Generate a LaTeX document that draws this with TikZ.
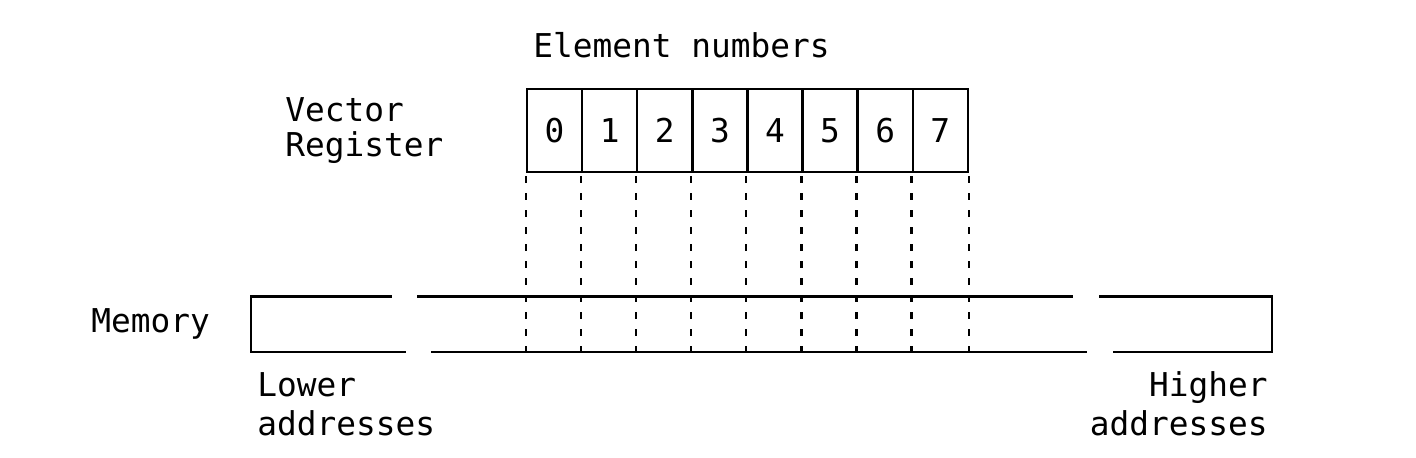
\documentclass[tikz,border=0pt]{standalone}
\usepackage{fontspec}
\setmonofont{DejaVu Sans Mono}
\begin{document}
\begin{tikzpicture}[x=0.5pt,y=-0.5pt,
  txt/.style={font=\ttfamily\fontsize{16.4}{19}\selectfont, inner sep=0pt, text=black},
  cell/.style={draw, line width=1.2pt, minimum width=27.55pt, minimum height=41.5pt, inner sep=0pt, font=\ttfamily\fontsize{16.4}{19}\selectfont},
  solidline/.style={line width=1.2pt},
  guide/.style={line width=1.2pt, dash pattern=on 3.5pt off 5pt, dash phase=-1.5pt}]
\useasboundingbox (0,0) rectangle (1416,458);
% labels
\node[txt, anchor=base west] (elem) at (533,58) {Element numbers};
\node[txt, anchor=base west] (vr1) at (285,121.5) {Vector};
\node[txt, anchor=base west] (vr2) at (285,156.5) {Register};
\node[txt, anchor=base west] (mem) at (91,333) {Memory};
\node[txt, anchor=base west] (lo1) at (257,396.5) {Lower};
\node[txt, anchor=base west] (lo2) at (257,435) {addresses};
\node[txt, anchor=base east] (hi1) at (1268,396.5) {Higher};
\node[txt, anchor=base east] (hi2) at (1268,435) {addresses};
% register cells
\foreach \i in {0,...,7}{
  \node[cell] (c\i) at ({554.6+55.1*\i},130.5) {\i};
}
% memory coordinates
\coordinate (mtl) at (251,296.5);
\coordinate (mbl) at (251,352);
\coordinate (mtr) at (1272,296.5);
\coordinate (mbr) at (1272,352);
\coordinate (t1) at (391.5,296.5);
\coordinate (t2) at (417,296.5);
\coordinate (t3) at (1073,296.5);
\coordinate (t4) at (1099,296.5);
\coordinate (b1) at (405.5,352);
\coordinate (b2) at (431,352);
\coordinate (b3) at (1087,352);
\coordinate (b4) at (1113,352);
% memory outline
\draw[solidline] (t1) -- (mtl) -- (mbl) -- (b1);
\draw[solidline] (t2) -- (t3);
\draw[solidline] (b2) -- (b3);
\draw[solidline] (t4) -- (mtr) -- (mbr) -- (b4);
% guide lines
\foreach \i in {0,...,7}{
  \draw[guide] (c\i.south west) -- (c\i.south west |- mbl);
}
\draw[guide] (c7.south east) -- (c7.south east |- mbl);
\end{tikzpicture}
\end{document}
